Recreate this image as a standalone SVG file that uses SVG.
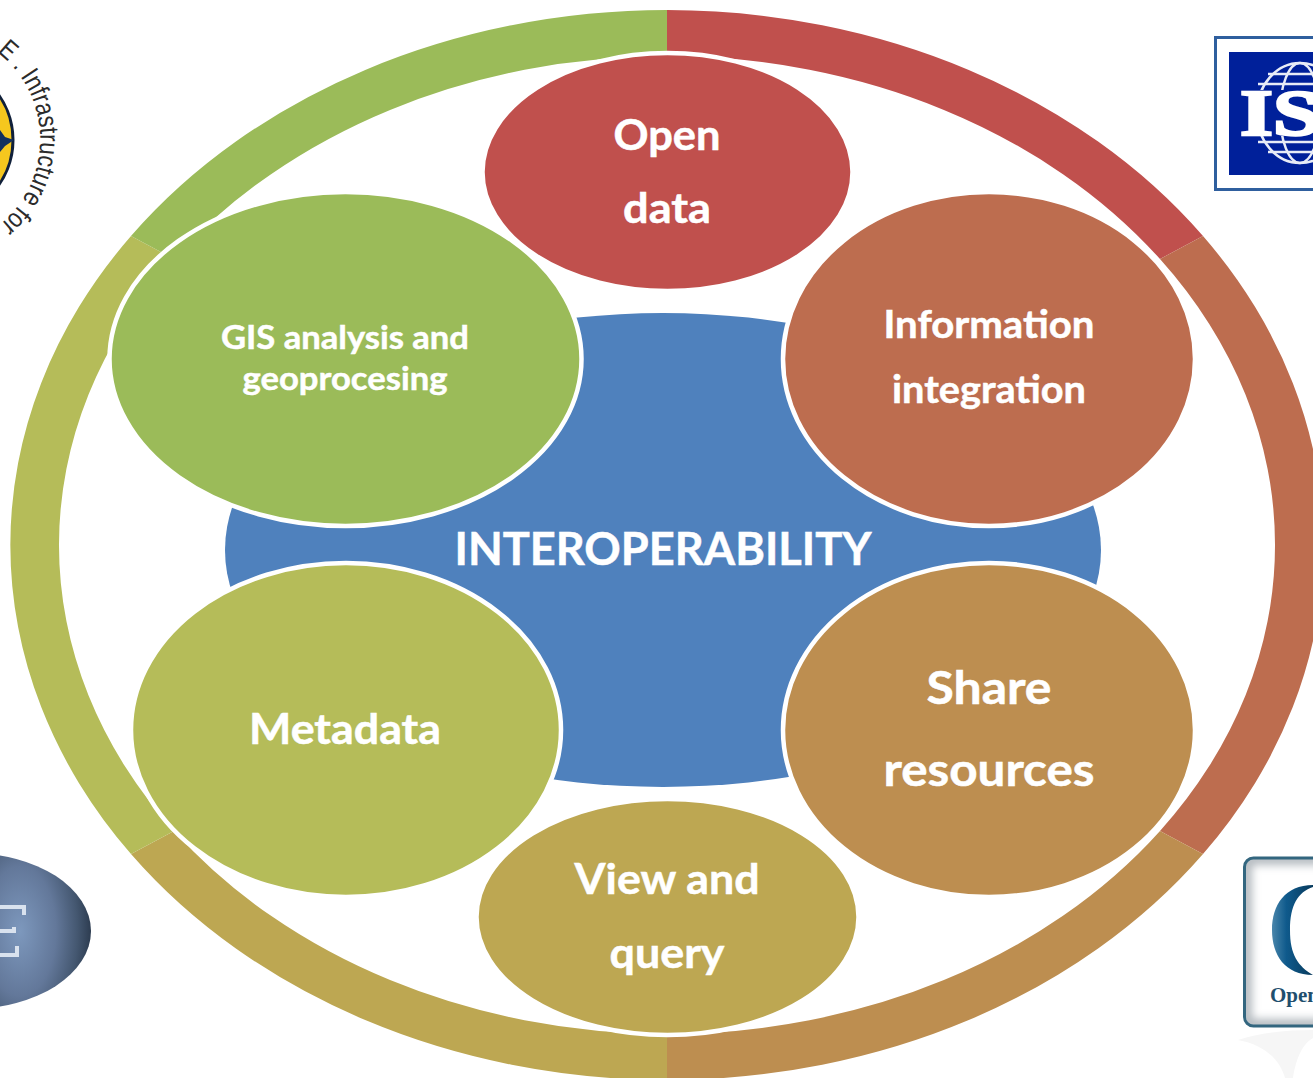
<svg xmlns="http://www.w3.org/2000/svg" width="1313" height="1078" viewBox="0 0 1313 1078">
<style>
.n{stroke:#fff;stroke-width:4.5}
.t{font-family:"Lato","Open Sans","Liberation Sans",sans-serif;font-weight:700;fill:#fff;text-anchor:middle;stroke:#fff;stroke-width:.5}
.seg{stroke:none}
</style>
<defs>
<radialGradient id="eg" gradientUnits="userSpaceOnUse" cx="20" cy="931" r="72" gradientTransform="translate(20 931) scale(1 1.8) translate(-20 -931)"><stop offset="0" stop-color="#7d98bd"/><stop offset="0.5" stop-color="#63789a"/><stop offset="0.8" stop-color="#445770"/><stop offset="1" stop-color="#2b3a4e"/></radialGradient>
<linearGradient id="og" x1="0" y1="0" x2="1" y2="0"><stop offset="0" stop-color="#4a86ab"/><stop offset="0.35" stop-color="#0f5a8c"/><stop offset="1" stop-color="#083a5c"/></linearGradient>
<path id="arc" d="M -3 52 A 110 110 0 0 1 -12 233"/>
<filter id="soft" x="-20%" y="-20%" width="140%" height="140%"><feGaussianBlur stdDeviation="4"/></filter>
<clipPath id="ogcclip"><rect x="1246" y="859" width="90" height="166" rx="8"/></clipPath>
</defs>
<rect width="1313" height="1078" fill="#fff"/>
<g id="logo-inspire">
<circle cx="-65" cy="140" r="78" fill="#f5c71e" stroke="#10203a" stroke-width="3"/>
<path d="M0 130 L5 137 L14 140 L5 146 L0 152 L-8 141Z" fill="#12305f"/>
<text font-family="Liberation Sans,sans-serif" font-size="27" fill="#2b2b2b"><textPath href="#arc" textLength="198" lengthAdjust="spacingAndGlyphs">E . Infrastructure for</textPath></text>
</g>
<g id="logo-iso">
<rect x="1215.500" y="37.500" width="110" height="152" fill="#fff" stroke="#2f5f9e" stroke-width="3"/>
<rect x="1229" y="52" width="100" height="123" fill="#00209a"/>
<g fill="none" stroke="#e8ecf7" stroke-width="2.500"><ellipse cx="1300" cy="113" rx="43" ry="50"/><ellipse cx="1300" cy="113" rx="20" ry="50"/><path d="M1258 84H1340M1268 74H1330M1258 142H1340M1268 152H1330"/></g>
<rect x="1238" y="90" width="75" height="46" fill="#00209a"/>
<text x="1240" y="135" font-family="Liberation Serif,serif" font-weight="700" font-size="66" fill="#fff" stroke="#fff" stroke-width="2.500" textLength="80" lengthAdjust="spacingAndGlyphs">IS</text>
</g>
<g id="logo-ogc">
<rect x="1244.500" y="858" width="90" height="168" rx="9" fill="#fff"/>
<g clip-path="url(#ogcclip)"><rect x="1246" y="859" width="90" height="166" rx="8" fill="none" stroke="#b4babf" stroke-width="12" filter="url(#soft)"/></g>
<rect x="1244.500" y="858" width="90" height="168" rx="9" fill="none" stroke="#33667f" stroke-width="3"/>
<path d="M1313 885 C1285 885 1272 905 1272 930 C1272 955 1285 975 1313 975 C1298 966 1290 955 1290 930 C1290 905 1298 892 1313 887Z" fill="url(#og)"/>
<text x="1270" y="1002" font-family="Liberation Serif,serif" font-weight="700" font-size="21" fill="#1f4f6e">Open</text>
<path d="M1238 1040 C1262 1032 1290 1030 1313 1030 L1313 1038 C1300 1045 1295 1065 1293 1078 L1285 1078 C1280 1060 1265 1045 1238 1040Z" fill="#f6f6f6"/>
</g>
<g id="logo-e">
<ellipse cx="-30" cy="931" rx="121" ry="78" fill="url(#eg)"/>
<path d="M0 907H24V915M0 931H14V927M0 955H17V946" fill="none" stroke="#d9e2ee" stroke-width="4"/>
</g>
<g id="connectors">
<path class="seg" fill="#C0504D" d="M667 10 A657 535 0 0 1 1203 236 L1160 259 A609 489 0 0 0 667 56Z"/>
<path class="seg" fill="#BD6D4F" d="M1203 236 A657 535 0 0 1 1203 854 L1160 831 A609 489 0 0 0 1160 259Z"/>
<path class="seg" fill="#BD8E50" d="M1203 854 A657 535 0 0 1 667 1080 L667 1034 A609 489 0 0 0 1160 831Z"/>
<path class="seg" fill="#BDA752" d="M667 1080 A657 535 0 0 1 131 854 L174 831 A609 489 0 0 0 667 1034Z"/>
<path class="seg" fill="#B5BC59" d="M131 854 A657 535 0 0 1 131 236 L174 259 A609 489 0 0 0 174 831Z"/>
<path class="seg" fill="#9BBB59" d="M131 236 A657 535 0 0 1 667 10 L667 56 A609 489 0 0 0 174 259Z"/>
</g>
<g id="center"><ellipse cx="663" cy="550" rx="438" ry="237" fill="#4F81BD"/><text class="t" x="663" y="565" font-size="46" textLength="417" lengthAdjust="spacingAndGlyphs">INTEROPERABILITY</text></g>
<g id="open-data"><ellipse class="n" cx="667.500" cy="172" rx="185" ry="119" fill="#C0504D"/><text class="t" font-size="42" x="667" y="150" textLength="107" lengthAdjust="spacingAndGlyphs">Open</text><text class="t" font-size="42" x="667" y="223" textLength="88" lengthAdjust="spacingAndGlyphs">data</text></g>
<g id="info"><ellipse class="n" cx="989" cy="359" rx="206" ry="167" fill="#BD6D4F"/><text class="t" font-size="39" x="989" y="338" textLength="211" lengthAdjust="spacingAndGlyphs">Information</text><text class="t" font-size="39" x="989" y="403" textLength="194" lengthAdjust="spacingAndGlyphs">integration</text></g>
<g id="share"><ellipse class="n" cx="989" cy="730" rx="206" ry="167" fill="#BD8E50"/><text class="t" font-size="46" x="989" y="704" textLength="125" lengthAdjust="spacingAndGlyphs">Share</text><text class="t" font-size="46" x="989" y="786" textLength="211" lengthAdjust="spacingAndGlyphs">resources</text></g>
<g id="view"><ellipse class="n" cx="667.500" cy="917" rx="191" ry="118" fill="#BDA752"/><text class="t" font-size="42" x="667" y="894" textLength="185" lengthAdjust="spacingAndGlyphs">View and</text><text class="t" font-size="42" x="667" y="968" textLength="115" lengthAdjust="spacingAndGlyphs">query</text></g>
<g id="metadata"><ellipse class="n" cx="346" cy="730" rx="215" ry="167" fill="#B5BC59"/><text class="t" font-size="42" x="345" y="744" textLength="192" lengthAdjust="spacingAndGlyphs">Metadata</text></g>
<g id="gis"><ellipse class="n" cx="345.500" cy="359" rx="236" ry="167" fill="#9BBB59"/><text class="t" font-size="33" x="345" y="349" textLength="248" lengthAdjust="spacingAndGlyphs">GIS analysis and</text><text class="t" font-size="33" x="345" y="390" textLength="205" lengthAdjust="spacingAndGlyphs">geoprocesing</text></g>
</svg>
